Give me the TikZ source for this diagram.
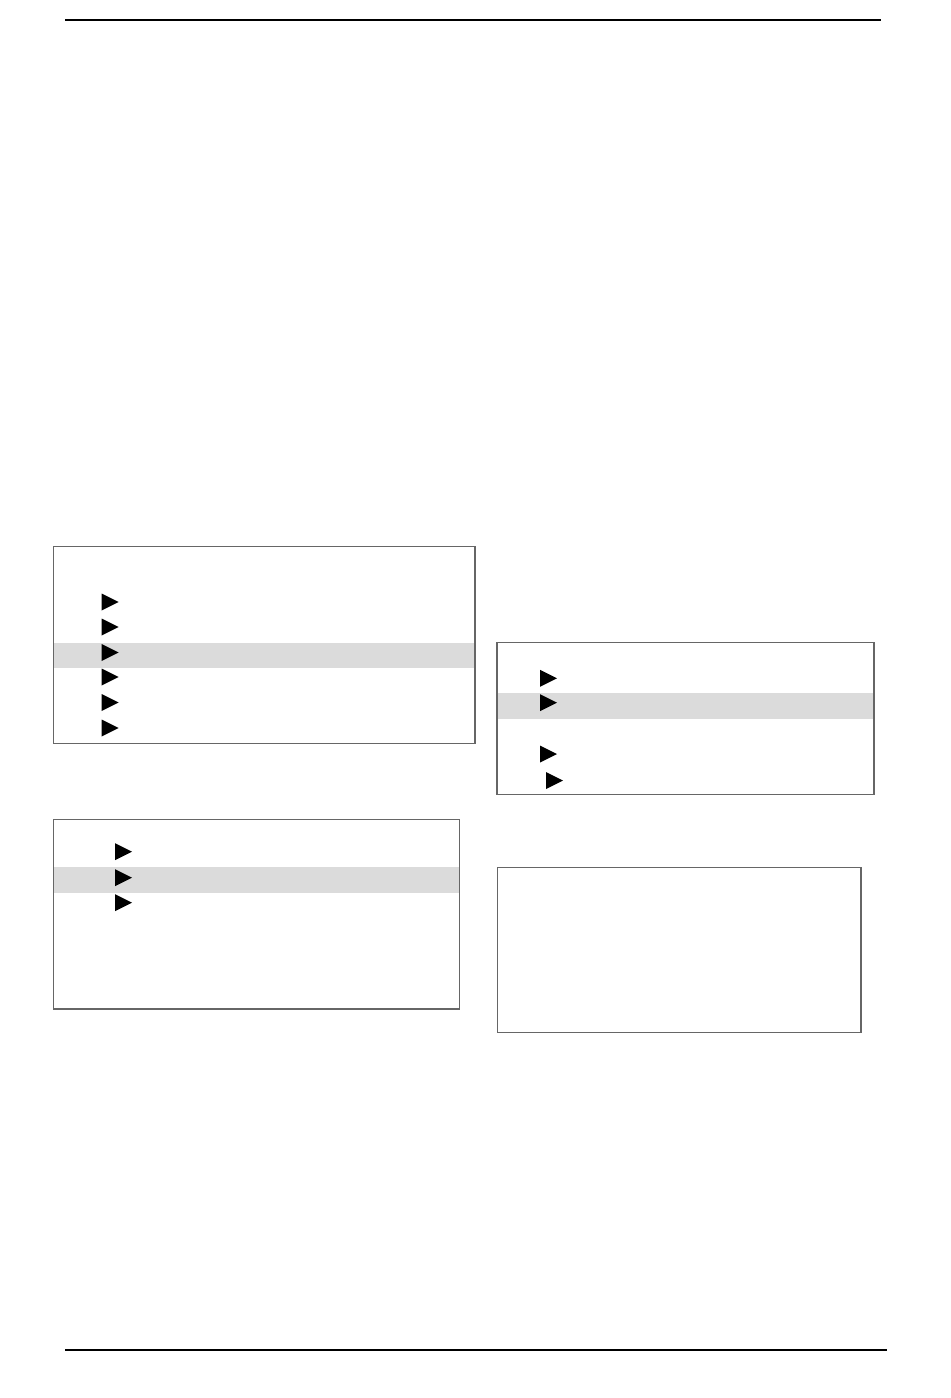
\documentclass[tikz,border=0pt]{standalone}
\usepackage{tikz}

\tikzset{
	panel/.style={draw=black!60,line width=0.6pt},
	barfill/.style={fill=black!14},
	rule/.style={draw=black,line width=1.2pt},
	pics/rowtip/.style={code={\fill[black] (0,-8.5) -- (17,0) -- (0,8.5) -- cycle;}}
}

\begin{document}
\begin{tikzpicture}[x=0.02cm,y=-0.02cm]
		\useasboundingbox (0,0) rectangle (950,1398);
		% page rules
		\coordinate (topL) at (65,20);
		\coordinate (topR) at (881,20);
		\coordinate (botL) at (65,1350);
		\coordinate (botR) at (887,1350);
		\draw[rule] (topL) -- (topR);
		\draw[rule] (botL) -- (botR);

		% left upper menu
		\fill[barfill] (53.5,642.7) rectangle (475,668);
		\draw[panel] (53.5,546.7) rectangle (475,743.7);
		\pic at (101.7,602) {rowtip};
		\pic at (101.7,627) {rowtip};
		\pic at (101.7,652.5) {rowtip};
		\pic at (101.7,677) {rowtip};
		\pic at (101.7,702.5) {rowtip};
		\pic at (101.7,728) {rowtip};

		% right upper menu
		\fill[barfill] (497,693.3) rectangle (874,718.7);
		\draw[panel] (497,642.7) rectangle (874,794.3);
		\pic at (540,678.3) {rowtip};
		\pic at (540,702.7) {rowtip};
		\pic at (540,754) {rowtip};
		\pic at (546,780.5) {rowtip};

		% left lower menu
		\fill[barfill] (53.5,867.3) rectangle (459.3,892.7);
		\draw[panel] (53.5,819.3) rectangle (459.3,1009);
		\pic at (115,851.7) {rowtip};
		\pic at (115,877.7) {rowtip};
		\pic at (115,902.7) {rowtip};

		% right lower box
		\draw[panel] (497.5,867.3) rectangle (861,1032.3);
	\end{tikzpicture}
\end{document}
